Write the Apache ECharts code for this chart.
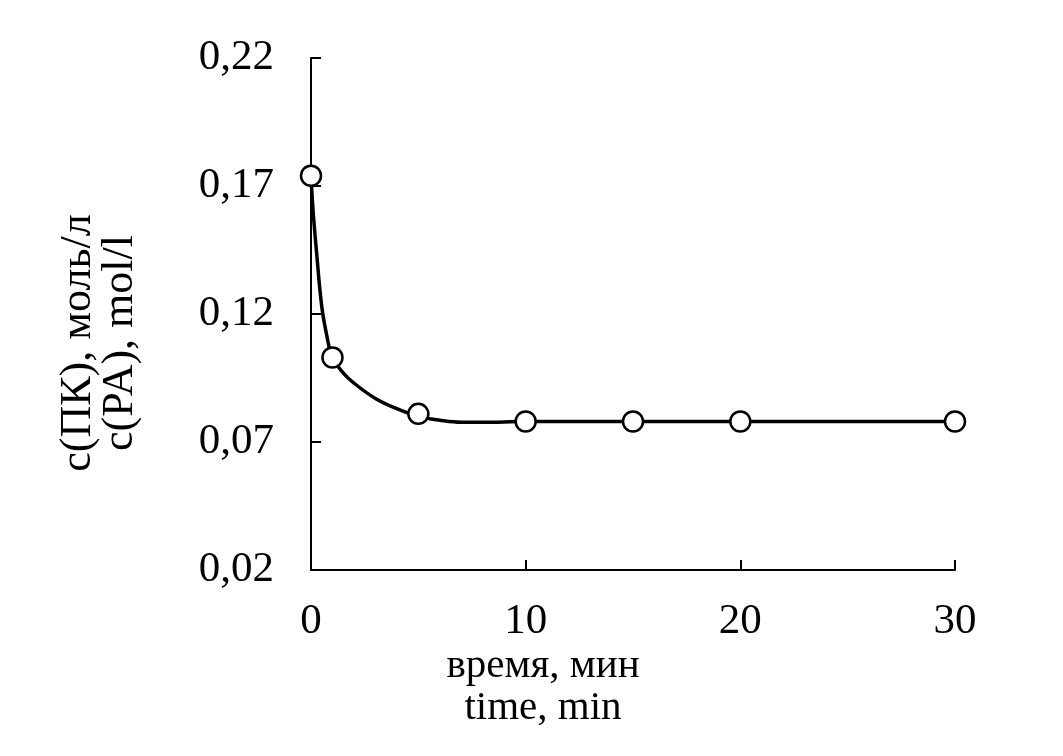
<!DOCTYPE html>
<html><head><meta charset="utf-8">
<script src="https://cdn.jsdelivr.net/npm/echarts@6/dist/echarts.min.js"></script>
<style>html,body{margin:0;padding:0;background:#fff}#c{width:1063px;height:756px}</style>
</head><body><div id="c"></div>
<script>
// measured points
const timeMin = [0, 1, 5, 10, 15, 20, 30];
const conc = [0.174, 0.103, 0.081, 0.078, 0.078, 0.078, 0.078];
// fitted curve
const curveTime = [0, 0.1, 0.25, 0.5, 0.75, 1, 1.5, 2, 3, 4, 5, 6, 7, 8, 10, 15, 20, 30];
const curveConc = [0.174, 0.160, 0.145, 0.123, 0.111, 0.103, 0.097, 0.093, 0.087, 0.083, 0.080, 0.0785, 0.0777, 0.0777, 0.078, 0.078, 0.078, 0.078];
const yTicks = [0.02, 0.07, 0.12, 0.17, 0.22];
const xTicks = [0, 10, 20, 30];
const xTitle = ['время, мин', 'time, min'];
const yTitle = ['c(ПК), моль/л', 'c(PA), mol/l'];

const FONT = 'Liberation Serif, Times New Roman, serif';
const TITLE_FONT = '41px ' + FONT;
const YTITLE_FONT = '44px ' + FONT;
const chart = echarts.init(document.getElementById('c'), null, {renderer: 'canvas'});
chart.setOption({
  backgroundColor: '#fff',
  animation: false,
  grid: {left: 311, top: 58, width: 644, height: 512, containLabel: false},
  xAxis: {
    type: 'value', min: 0, max: 30, interval: 10,
    splitLine: {show: false},
    axisLine: {show: true, lineStyle: {color: '#000', width: 2}},
    axisTick: {show: true, inside: true, length: 10, lineStyle: {color: '#000', width: 2}, customValues: xTicks},
    axisLabel: {color: '#000', fontFamily: FONT, fontSize: 43, margin: 30, customValues: xTicks}
  },
  yAxis: {
    type: 'value', min: 0.02, max: 0.22,
    splitLine: {show: false},
    axisLine: {show: true, lineStyle: {color: '#000', width: 2}},
    axisTick: {show: true, inside: true, length: 10, lineStyle: {color: '#000', width: 2}, customValues: yTicks},
    axisLabel: {color: '#000', fontFamily: FONT, fontSize: 43, margin: 37, customValues: yTicks,
      formatter: v => v.toFixed(2).replace('.', ',')}
  },
  graphic: [
    {type: 'text', x: 543, y: 666, style: {text: xTitle[0], font: TITLE_FONT, fill: '#000', textAlign: 'center', textVerticalAlign: 'middle'}},
    {type: 'text', x: 543, y: 708, style: {text: xTitle[1], font: TITLE_FONT, fill: '#000', textAlign: 'center', textVerticalAlign: 'middle'}},
    {type: 'text', x: 78, y: 343, rotation: Math.PI / 2, style: {text: yTitle[0], font: YTITLE_FONT, fill: '#000', textAlign: 'center', textVerticalAlign: 'middle'}},
    {type: 'text', x: 120, y: 343, rotation: Math.PI / 2, style: {text: yTitle[1], font: YTITLE_FONT, fill: '#000', textAlign: 'center', textVerticalAlign: 'middle'}}
  ],
  series: [
    {type: 'line', data: curveTime.map((t, i) => [t, curveConc[i]]), smooth: 0.4, showSymbol: false,
      lineStyle: {color: '#000', width: 3.5}, z: 2},
    {type: 'scatter', data: timeMin.map((t, i) => [t, conc[i]]), symbol: 'circle', symbolSize: 20,
      itemStyle: {color: '#fff', borderColor: '#000', borderWidth: 2.5, opacity: 1}, z: 3}
  ]
});
</script></body></html>
